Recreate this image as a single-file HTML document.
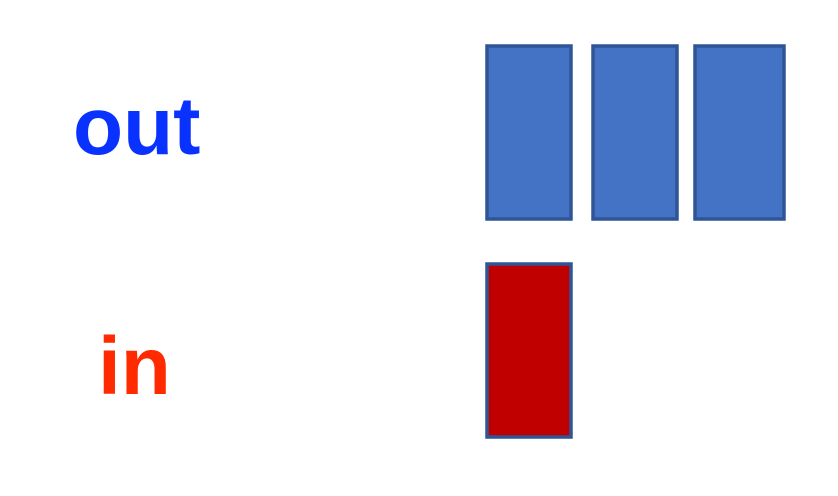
<!DOCTYPE html>
<html>
<head>
<meta charset="utf-8">
<style>
  html, body { margin: 0; padding: 0; background: #ffffff; }
  body { width: 838px; height: 496px; position: relative; overflow: hidden; }
  .label { position: absolute; font-family: "Liberation Sans", Arial, sans-serif; font-weight: bold; font-size: 82px; line-height: 1; }
  svg { position: absolute; left: 0; top: 0; }
</style>
</head>
<body>
<div class="label" style="left:73px; top:86px; color:#0A32FF;">out</div>
<div class="label" style="left:98px; top:326px; color:#FF2A00;">in</div>
<svg id="chart" width="838" height="496"></svg>
<script>
const categories = ["out", "in"];
const counts = [3, 1];
const fills = ["#4472C4", "#C00000"];

const svg = document.getElementById('chart');
const NS = 'http://www.w3.org/2000/svg';
const rowTop = [46, 264];
const colX = [487, 593, 695];
const colW = [84, 84, 89];
const rectH = 173;

for (let r = 0; r < categories.length; r++) {
  for (let i = 0; i < counts[r]; i++) {
    const rect = document.createElementNS(NS, 'rect');
    const x = i < colX.length ? colX[i] : colX[colX.length - 1] + (i - colX.length + 1) * 104;
    const w = i < colW.length ? colW[i] : 84;
    rect.setAttribute('x', x);
    rect.setAttribute('y', rowTop[r]);
    rect.setAttribute('width', w);
    rect.setAttribute('height', rectH);
    rect.setAttribute('fill', fills[r]);
    rect.setAttribute('stroke', '#2F5597');
    rect.setAttribute('stroke-width', '3.5');
    
    
    svg.appendChild(rect);
  }
}
</script>
</body>
</html>
